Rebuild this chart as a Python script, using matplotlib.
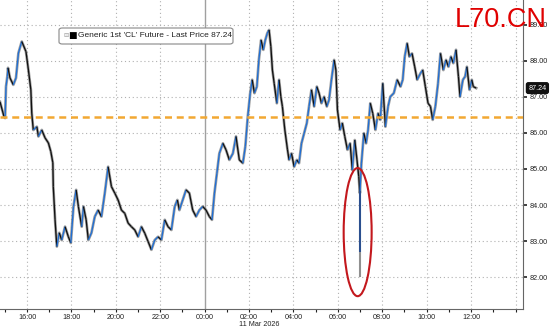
import numpy as np
import matplotlib.pyplot as plt
import matplotlib.transforms as mtransforms
from matplotlib.collections import LineCollection
from matplotlib.patches import Ellipse, FancyBboxPatch

plt.rcParams['font.family'] = ['Liberation Sans', 'DejaVu Sans']

# hours since 10 Mar 00:00 (24 = 00:00 on 11 Mar)
t_hr = [14.78, 14.96, 15.01, 15.05, 15.11, 15.14, 15.23, 15.38, 15.50, 15.61,
        15.76, 15.83, 15.95, 16.06, 16.17, 16.21, 16.28, 16.44, 16.51, 16.66,
        16.81, 16.96, 17.07, 17.16, 17.18, 17.26, 17.34, 17.45, 17.56, 17.71,
        17.86, 17.97, 18.09, 18.21, 18.31, 18.46, 18.54, 18.66, 18.76, 18.90,
        19.05, 19.20, 19.35, 19.50, 19.65, 19.80, 19.95, 20.10, 20.25, 20.40,
        20.55, 20.70, 20.85, 21.00, 21.15, 21.30, 21.45, 21.60, 21.75, 21.90,
        22.05, 22.20, 22.35, 22.50, 22.65, 22.77, 22.86, 23.01, 23.16, 23.31,
        23.46, 23.61, 23.76, 23.91, 24.06, 24.21, 24.33, 24.44, 24.55, 24.66,
        24.82, 24.96, 25.11, 25.27, 25.41, 25.56, 25.72, 25.83, 25.94, 26.05,
        26.14, 26.24, 26.35, 26.44, 26.54, 26.64, 26.73, 26.82, 26.90, 26.98,
        27.05, 27.13, 27.25, 27.35, 27.43, 27.50, 27.61, 27.73, 27.80, 27.91,
        28.03, 28.15, 28.25, 28.36, 28.48, 28.60, 28.70, 28.81, 28.93, 29.05,
        29.15, 29.26, 29.38, 29.50, 29.60, 29.71, 29.83, 29.91, 29.98, 30.10,
        30.20, 30.31, 30.43, 30.55, 30.65, 30.76, 30.86, 30.94, 30.99, 31.06,
        31.17, 31.27, 31.36, 31.46, 31.57, 31.69, 31.81, 31.91, 32.02, 32.14,
        32.26, 32.36, 32.52, 32.67, 32.82, 32.92, 33.01, 33.12, 33.22, 33.34,
        33.46, 33.57, 33.72, 33.82, 33.94, 34.06, 34.17, 34.27, 34.39, 34.51,
        34.62, 34.75, 34.87, 34.98, 35.09, 35.20, 35.32, 35.43, 35.50, 35.63,
        35.73, 35.81, 35.93, 36.03, 36.10, 36.23]
price = [86.86, 86.45, 86.41, 87.28, 87.56, 87.80, 87.52, 87.33, 87.52, 88.21,
         88.53, 88.43, 88.25, 87.74, 87.19, 86.55, 86.08, 86.17, 85.90, 86.08,
         85.86, 85.72, 85.48, 85.17, 84.51, 83.59, 82.85, 83.23, 83.03, 83.40,
         83.12, 82.95, 83.96, 84.42, 83.96, 83.40, 83.96, 83.59, 83.03, 83.23,
         83.68, 83.86, 83.68, 84.33, 85.06, 84.51, 84.33, 84.14, 83.86, 83.77,
         83.50, 83.40, 83.31, 83.12, 83.40, 83.22, 82.99, 82.76, 83.03, 83.12,
         83.03, 83.59, 83.40, 83.31, 83.96, 84.14, 83.86, 84.14, 84.42, 84.33,
         83.86, 83.68, 83.86, 83.96, 83.86, 83.68, 83.59, 84.33, 84.88, 85.43,
         85.71, 85.53, 85.25, 85.43, 85.90, 85.25, 85.16, 85.62, 86.45, 87.10,
         87.47, 87.10, 87.28, 88.02, 88.57, 88.30, 88.57, 88.76, 88.85, 88.39,
         87.74, 87.37, 86.82, 87.47, 87.00, 86.73, 86.08, 85.53, 85.25, 85.43,
         85.06, 85.25, 85.16, 85.71, 85.99, 86.27, 86.73, 87.19, 86.73, 87.28,
         87.10, 86.82, 87.00, 86.73, 86.91, 87.47, 88.02, 87.74, 86.63, 86.08,
         86.27, 85.90, 85.53, 85.71, 84.97, 85.80, 85.25, 84.79, 84.33, 85.16,
         85.99, 85.71, 86.08, 86.82, 86.54, 86.08, 86.54, 86.36, 87.37, 86.17,
         86.73, 87.00, 87.10, 87.47, 87.28, 87.47, 88.11, 88.48, 88.11, 88.20,
         87.83, 87.47, 87.65, 87.74, 87.28, 86.82, 86.73, 86.36, 86.73, 87.37,
         88.20, 87.74, 88.02, 87.83, 88.11, 87.93, 88.30, 87.56, 87.00, 87.47,
         87.56, 87.83, 87.19, 87.47, 87.28, 87.24]

# the 07:00 flash drop bar
spike_t = 30.99
spike_body = [84.40, 82.70]
spike_low = 82.02

ref_level = 86.45
last_price = 87.24

yticks = [82, 83, 84, 85, 86, 87, 88, 89]
xticks = [16, 18, 20, 22, 24, 26, 28, 30, 32, 34, 36, 38]
xlabels = ['16:00', '18:00', '20:00', '22:00', '00:00', '02:00', '04:00',
           '06:00', '08:00', '10:00', '12:00', '']

fig = plt.figure(figsize=(5.5, 3.29), dpi=100)
ax = fig.add_axes([0.0, 0.0608, 0.951, 0.9392])
ax.set_xlim(14.78, 38.34)
ax.set_ylim(81.12, 89.68)

# grid
for y in yticks:
    ax.axhline(y, color='#b0b0b0', lw=0.8, ls=(0, (1, 2.5)), zorder=0)
for x in xticks:
    if x != 24:
        ax.axvline(x, color='#b0b0b0', lw=0.8, ls=(0, (1, 2.5)), zorder=0)
ax.axvline(24, color='#a0a0a0', lw=1.0, zorder=0)

# price series
t = np.array(t_hr)
p = np.array(price)
ax.plot(t, p, color='#8a8a8a', lw=2.0, alpha=0.8, zorder=2)
segs = np.stack([np.column_stack([t[:-1], p[:-1]]), np.column_stack([t[1:], p[1:]])], axis=1)
cols = ['#1f6fd6' if b >= a else '#111111' for a, b in zip(p[:-1], p[1:])]
ax.add_collection(LineCollection(segs, colors=cols, linewidths=0.95, zorder=3))

ax.vlines(spike_t, spike_body[1], spike_body[0], color='#2b4f8f', lw=1.5, zorder=3)
ax.vlines(spike_t, spike_low, spike_body[1], color='#909090', lw=1.5, zorder=3)

ax.axhline(ref_level, color='#f2a832', lw=1.8, ls=(0, (2.8, 1.9)), zorder=4)

ax.add_patch(Ellipse((30.89, 83.25), 1.26, 3.55, fill=False, ec='#c3181d', lw=1.5, zorder=5))

# axes styling
for s in ['top', 'left']:
    ax.spines[s].set_visible(False)
ax.spines['right'].set_color('#666666')
ax.spines['bottom'].set_color('#666666')
ax.yaxis.tick_right()
ax.set_yticks(yticks)
ax.set_yticklabels(['%.2f' % v for v in yticks])
ax.tick_params(axis='y', direction='out', length=3, width=1.2, pad=2,
               labelsize=5.2, colors='#222222')
ax.set_xticks(xticks)
ax.set_xticklabels(xlabels)
ax.set_xticks(np.arange(15, 39, 1), minor=True)
ax.tick_params(axis='x', which='both', direction='out', length=2.5, width=0.8,
               pad=1.0, labelsize=5.2, colors='#222222')

# last price tag
trans = mtransforms.blended_transform_factory(ax.transAxes, ax.transData)
ax.text(1.01, last_price, '%.2f' % last_price, transform=trans, fontsize=5.2,
        color='white', va='center', ha='left', clip_on=False,
        bbox=dict(boxstyle='round,pad=0.25', fc='#111111', ec='#111111'))

W, H = 550.0, 329.0

# date under the axis
fig.text(239 / W, 1 - 328 / H, '11 Mar 2026', fontsize=5.2, color='#222222',
         ha='left', va='bottom')

# legend box
fig.patches.append(FancyBboxPatch((59 / W, 1 - 44 / H), 174 / W, 16 / H,
                                  boxstyle='round,pad=0,rounding_size=0.006',
                                  transform=fig.transFigure, fc='white',
                                  ec='#888888', lw=0.8, zorder=6))
ly = 1 - 35.5 / H
fig.text(63 / W, ly, '⊟', fontsize=4.5, color='#999999', va='center',
         ha='left', family=['DejaVu Sans'], zorder=7)
fig.text(68.5 / W, ly, '■', fontsize=6.5, color='#000000', va='center',
         ha='left', family=['DejaVu Sans'], zorder=7)
fig.text(78 / W, ly, "Generic 1st 'CL' Future - Last Price 87.24",
         fontsize=6.0, color='#222222', va='center', ha='left', zorder=7)

# watermark
fig.text(0.827, 1 - 27 / H, 'L70.CN', fontsize=19.5, color='#e00000',
         ha='left', va='baseline', zorder=8)

fig.savefig('out.png', dpi=100)
